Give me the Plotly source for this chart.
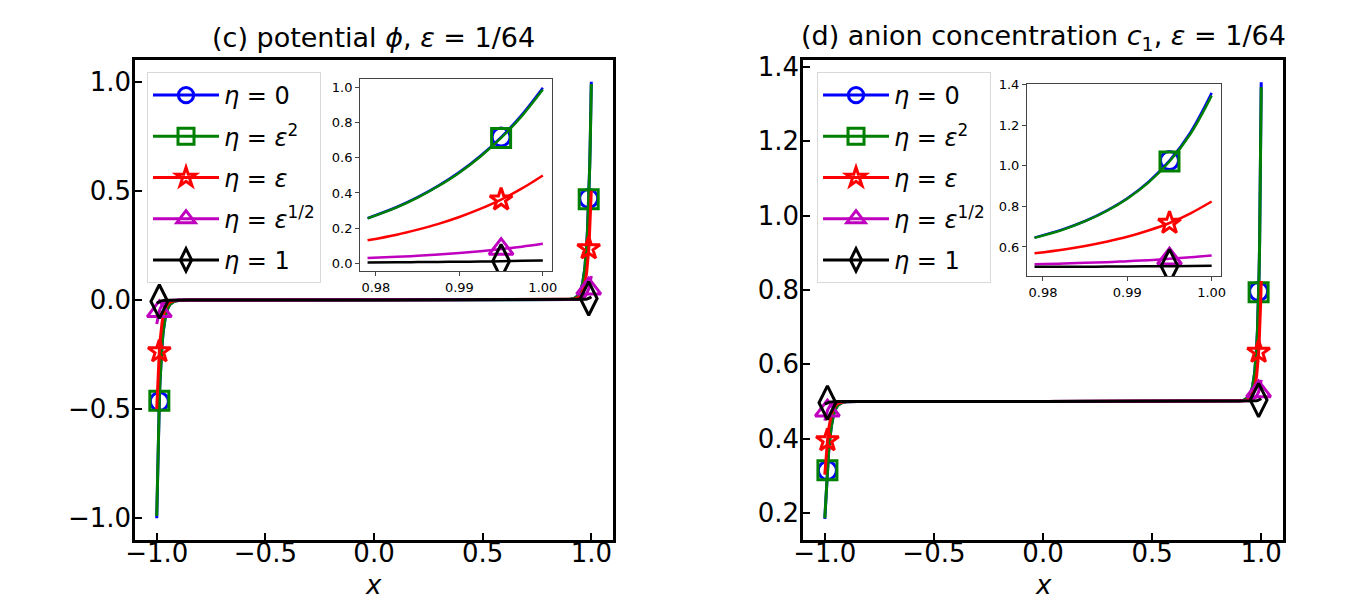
import plotly.graph_objects as go

# x grid (shared by all curves)
x = [-1.0, -0.9975, -0.995, -0.9925, -0.99, -0.9875, -0.985, -0.9825, -0.979, -0.975, -0.97,
     -0.96, -0.95, -0.94, -0.92, -0.9, -0.85, 0.0,
     0.85, 0.9, 0.92, 0.94, 0.95, 0.96, 0.97, 0.975, 0.979, 0.9825, 0.985, 0.9875, 0.99,
     0.9925, 0.995, 0.9975, 1.0]

labels = ['<i>η</i> = 0', '<i>η</i> = <i>ε</i><sup>2</sup>', '<i>η</i> = <i>ε</i>',
          '<i>η</i> = <i>ε</i><sup>1/2</sup>', '<i>η</i> = 1']

# potential phi
phi_0 = [-1.0, -0.847, -0.719, -0.611, -0.519, -0.442, -0.376, -0.320, -0.256, -0.198, -0.144,
         -0.076, -0.040, -0.021, -0.006, -0.002, 0.0, 0.0,
         0.0, 0.002, 0.006, 0.021, 0.040, 0.076, 0.144, 0.198, 0.256, 0.320, 0.376, 0.442, 0.519,
         0.611, 0.719, 0.847, 1.0]
phi_eps2 = [-0.99, -0.840, -0.714, -0.607, -0.516, -0.440, -0.374, -0.318, -0.255, -0.197, -0.143,
            -0.075, -0.040, -0.021, -0.006, -0.002, 0.0, 0.0,
            0.0, 0.002, 0.006, 0.021, 0.040, 0.075, 0.143, 0.197, 0.255, 0.318, 0.374, 0.440, 0.516,
            0.607, 0.714, 0.840, 0.99]
phi_eps = [-0.5, -0.426, -0.362, -0.309, -0.263, -0.224, -0.191, -0.162, -0.130, -0.100, -0.073,
           -0.039, -0.020, -0.011, -0.003, -0.001, 0.0, 0.0,
           0.0, 0.001, 0.003, 0.011, 0.020, 0.039, 0.073, 0.100, 0.130, 0.162, 0.191, 0.224, 0.263,
           0.309, 0.362, 0.426, 0.5]
phi_sqrt = [-0.11, -0.094, -0.080, -0.068, -0.058, -0.049, -0.042, -0.036, -0.029, -0.022, -0.016,
            -0.0085, -0.0045, -0.0024, -0.0007, -0.0002, 0.0, 0.0,
            0.0, 0.0002, 0.0007, 0.0024, 0.0045, 0.0085, 0.016, 0.022, 0.029, 0.036, 0.042, 0.049, 0.058,
            0.068, 0.080, 0.094, 0.11]
phi_1 = [-0.015, -0.013, -0.011, -0.009, -0.008, -0.007, -0.006, -0.005, -0.004, -0.003, -0.002,
         -0.001, -0.0006, -0.0003, -0.0001, 0.0, 0.0, 0.0,
         0.0, 0.0, 0.0001, 0.0003, 0.0006, 0.001, 0.002, 0.003, 0.004, 0.005, 0.006, 0.007, 0.008,
         0.009, 0.011, 0.013, 0.015]

# anion concentration c1
c1_0 = [0.184, 0.214, 0.244, 0.271, 0.298, 0.321, 0.343, 0.363, 0.387, 0.410, 0.433,
        0.464, 0.480, 0.490, 0.497, 0.499, 0.5, 0.5,
        0.5, 0.501, 0.503, 0.511, 0.520, 0.539, 0.577, 0.610, 0.646, 0.689, 0.728, 0.778, 0.840,
        0.921, 1.026, 1.166, 1.359]
c1_eps2 = [0.186, 0.216, 0.245, 0.272, 0.298, 0.322, 0.344, 0.364, 0.387, 0.410, 0.433,
           0.464, 0.480, 0.490, 0.497, 0.499, 0.5, 0.5,
           0.5, 0.501, 0.503, 0.511, 0.520, 0.539, 0.577, 0.609, 0.645, 0.687, 0.727, 0.776, 0.838,
           0.917, 1.021, 1.158, 1.346]
c1_eps = [0.303, 0.327, 0.348, 0.367, 0.384, 0.400, 0.413, 0.425, 0.439, 0.452, 0.465,
          0.481, 0.490, 0.495, 0.4985, 0.4996, 0.5, 0.5,
          0.5, 0.5004, 0.5015, 0.505, 0.510, 0.520, 0.538, 0.553, 0.569, 0.588, 0.605, 0.626, 0.650,
          0.681, 0.718, 0.766, 0.824]
c1_sqrt = [0.448, 0.455, 0.462, 0.467, 0.472, 0.476, 0.479, 0.482, 0.486, 0.489, 0.492,
           0.496, 0.498, 0.499, 0.4996, 0.4999, 0.5, 0.5,
           0.5, 0.5001, 0.5004, 0.501, 0.502, 0.504, 0.508, 0.511, 0.515, 0.518, 0.522, 0.525, 0.530,
           0.535, 0.542, 0.549, 0.558]
c1_1 = [0.4926, 0.4936, 0.4946, 0.4954, 0.4961, 0.4967, 0.4972, 0.4976, 0.4981, 0.4985, 0.4989,
        0.4994, 0.4997, 0.4999, 0.5, 0.5, 0.5, 0.5,
        0.5, 0.5, 0.5, 0.5001, 0.5003, 0.5006, 0.5011, 0.5015, 0.5020, 0.5025, 0.5029, 0.5034, 0.5040,
        0.5047, 0.5055, 0.5064, 0.5075]

# marker positions
mk_x = [-0.988, 0.988]
mk_phi = [[-0.465, 0.465], [-0.462, 0.462], [-0.236, 0.236], [-0.052, 0.052], [-0.007, 0.007]]
mk_c1 = [[0.314, 0.796], [0.315, 0.794], [0.395, 0.633], [0.475, 0.527], [0.4965, 0.5035]]
inset_mk_x = 0.995
inset_mk_phi = [0.719, 0.714, 0.362, 0.080, 0.011]
inset_mk_c1 = [1.026, 1.021, 0.718, 0.542, 0.5055]

colors = ['#0000ff', '#008000', '#ff0000', '#bf00bf', '#000000']
symbols = ['circle-open', 'square-open', 'star-open', 'triangle-up-open', 'diamond-tall-open']
msize = [18, 19, 17, 21, 24]

phis = [phi_0, phi_eps2, phi_eps, phi_sqrt, phi_1]
c1s = [c1_0, c1_eps2, c1_eps, c1_sqrt, c1_1]

fig = go.Figure()

inset_idx = [i for i, v in enumerate(x) if v >= 0.979]
xin = [x[i] for i in inset_idx]


def marker(k, scale=1.0):
    return dict(symbol=symbols[k], color=colors[k], size=msize[k] * scale,
                line=dict(color=colors[k], width=3))


for k in range(5):
    for data, mky, xa, ya, leg in [(phis[k], mk_phi[k], 'x', 'y', 'legend'),
                                  (c1s[k], mk_c1[k], 'x2', 'y2', 'legend2')]:
        fig.add_trace(go.Scatter(x=x, y=data, mode='lines', line=dict(color=colors[k], width=3),
                                 xaxis=xa, yaxis=ya, showlegend=False))
        fig.add_trace(go.Scatter(x=mk_x, y=mky, mode='markers', marker=marker(k),
                                 xaxis=xa, yaxis=ya, showlegend=False))
        # legend entry only
        fig.add_trace(go.Scatter(x=[None], y=[None], mode='lines+markers', name=labels[k],
                                 line=dict(color=colors[k], width=3), marker=marker(k, 0.85),
                                 xaxis=xa, yaxis=ya, legend=leg, legendgroup=leg + str(k)))
    # insets
    for data, mky, xa, ya in [(phis[k], inset_mk_phi[k], 'x3', 'y3'),
                              (c1s[k], inset_mk_c1[k], 'x4', 'y4')]:
        fig.add_trace(go.Scatter(x=xin, y=[data[i] for i in inset_idx], mode='lines',
                                 line=dict(color=colors[k], width=2.5, shape='spline'),
                                 xaxis=xa, yaxis=ya, showlegend=False))
        fig.add_trace(go.Scatter(x=[inset_mk_x], y=[mky], mode='markers', marker=marker(k),
                                 xaxis=xa, yaxis=ya, showlegend=False))

main_ax = dict(showline=True, linecolor='black', linewidth=2.5, mirror=True, ticks='inside',
               ticklen=7, tickwidth=2, tickcolor='black', showgrid=False, zeroline=False,
               automargin=False, tickfont=dict(size=26, color='black'))
inset_ax = dict(showline=True, linecolor='#444', linewidth=1, mirror=True, ticks='outside',
                ticklen=4, tickwidth=1, tickcolor='#444', showgrid=False, zeroline=False,
                automargin=False, tickfont=dict(size=13, color='black'))
xticks = dict(tickvals=[-1, -0.5, 0, 0.5, 1], ticktext=['−1.0', '−0.5', '0.0', '0.5', '1.0'],
              ticklabelstandoff=-12)

leg_style = dict(y=0.88, xanchor='left', yanchor='top', bgcolor='white', bordercolor='#d8d8d8',
                 borderwidth=1, font=dict(size=24), tracegroupgap=7, itemwidth=66)

fig.update_layout(
    width=1350, height=600,
    margin=dict(l=0, r=0, t=0, b=0, autoexpand=False),
    paper_bgcolor='white', plot_bgcolor='white',
    font=dict(family='DejaVu Sans', color='black'),
    xaxis=dict(domain=[0.1, 0.4541], range=[-1.1, 1.1], anchor='y', **xticks, **main_ax),
    yaxis=dict(domain=[0.1, 0.9], range=[-1.1, 1.1], anchor='x', tickvals=[-1, -0.5, 0, 0.5, 1],
               ticktext=['−1.0', '−0.5', '0.0', '0.5', '1.0'], ticklabelstandoff=-4, **main_ax),
    xaxis2=dict(domain=[0.5948, 0.9504], range=[-1.1, 1.1], anchor='y2', **xticks, **main_ax),
    yaxis2=dict(domain=[0.1, 0.9], range=[0.127, 1.419], tickvals=[0.2, 0.4, 0.6, 0.8, 1.0, 1.2, 1.4],
                tickformat='.1f', anchor='x2', ticklabelstandoff=-4, **main_ax),
    xaxis3=dict(domain=[0.2667, 0.4089], range=[0.9781, 1.0011], tickvals=[0.98, 0.99, 1.0],
                tickformat='.2f', anchor='y3', **inset_ax),
    yaxis3=dict(domain=[0.5483, 0.8683], range=[-0.045, 1.05], tickvals=[0, 0.2, 0.4, 0.6, 0.8, 1.0],
                tickformat='.1f', anchor='x3', **inset_ax),
    xaxis4=dict(domain=[0.7607, 0.9044], range=[0.9781, 1.0011], tickvals=[0.98, 0.99, 1.0],
                tickformat='.2f', anchor='y4', **inset_ax),
    yaxis4=dict(domain=[0.54, 0.86], range=[0.457, 1.403], tickvals=[0.6, 0.8, 1.0, 1.2, 1.4],
                tickformat='.1f', anchor='x4', **inset_ax),
    legend=dict(x=0.1089, **leg_style),
    legend2=dict(x=0.6052, **leg_style),
    annotations=[
        dict(text='(c) potential <i>ϕ</i>, <i>ε</i> = 1/64', x=0.2770, y=0.938, xref='paper',
             yref='paper', xanchor='center', yanchor='middle', showarrow=False, font=dict(size=27)),
        dict(text='(d) anion concentration <i>c</i><sub>1</sub>, <i>ε</i> = 1/64', x=0.7726, y=0.938,
             xref='paper', yref='paper', xanchor='center', yanchor='middle', showarrow=False,
             font=dict(size=27)),
        dict(text='<i>x</i>', x=0.2770, y=0.025, xref='paper', yref='paper', xanchor='center',
             yanchor='middle', showarrow=False, font=dict(size=26)),
        dict(text='<i>x</i>', x=0.7726, y=0.025, xref='paper', yref='paper', xanchor='center',
             yanchor='middle', showarrow=False, font=dict(size=26)),
    ],
)

fig.write_html("out.html", config={'displayModeBar': False},
               post_script="document.body.style.margin='0';document.body.style.overflow='hidden';")
